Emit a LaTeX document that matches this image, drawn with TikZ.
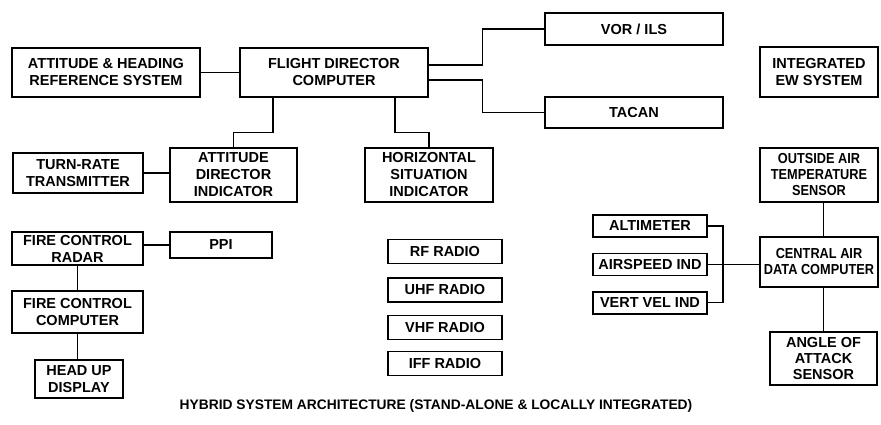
\documentclass[tikz,border=0pt]{standalone}
\usepackage{fontspec}
\setmainfont{Liberation Sans}
\newfontfamily\narrowsans[FakeStretch=0.88]{Liberation Sans}
\usetikzlibrary{positioning}

\begin{document}
\begin{tikzpicture}[
  x=1pt, y=-1pt,
  node distance=12pt,
  unitbox/.style={
    draw, line width=1.4pt, align=center, inner sep=0pt,
    font=\fontsize{14.5}{17}\selectfont\bfseries
  },
  sized/.style 2 args={minimum width=#1, minimum height=#2},
  narrowtext/.style={font=\fontsize{14.5}{16}\selectfont\narrowsans\bfseries},
  radio/.style={unitbox, sized={114pt}{24pt}},
  instr/.style={unitbox, sized={114pt}{22pt}},
  wire/.style={line width=1.3pt}
]
\useasboundingbox (0,0) rectangle (881,424);

% ---- Flight director group ----
\node[unitbox, sized={188pt}{49pt}] (ahrs) at (106,72.5) {ATTITUDE \& HEADING\\REFERENCE SYSTEM};
\node[unitbox, sized={188pt}{49pt}] (fdc) at (334,72.5) {FLIGHT DIRECTOR\\COMPUTER};
\node[unitbox, sized={178pt}{32pt}] (vor) at (634,29) {VOR / ILS};
\node[unitbox, sized={178pt}{31pt}] (tacan) at (634,112.5) {TACAN};
\node[unitbox, sized={130pt}{40pt}] (trt) at (78,173) {TURN-RATE\\TRANSMITTER};
\node[unitbox, sized={127pt}{54pt}] (adi) at (233.5,175) {ATTITUDE\\DIRECTOR\\INDICATOR};
\node[unitbox, sized={128pt}{54pt}] (hsi) at (429,175) {HORIZONTAL\\SITUATION\\INDICATOR};

\draw[wire] (ahrs) -- (fdc);
\draw[wire] ([yshift=7.5pt]fdc.east) -- ++(54,0) |- (vor.west);
\draw[wire] ([yshift=-7.5pt]fdc.east) -- ++(54,0) |- (tacan.west);
\draw[wire] ([xshift=-61pt]fdc.south) -- ++(0,35) -| (adi.north);
\draw[wire] ([xshift=61pt]fdc.south) -- ++(0,35) -| (hsi.north);
\draw[wire] (trt.east) -- (trt.east -| adi.west);

% ---- Fire control group ----
\node[unitbox, sized={131pt}{33pt}] (fcr) at (77.5,248.5) {FIRE CONTROL\\RADAR};
\node[unitbox, sized={102pt}{26pt}] (ppi) at (221,245) {PPI};
\node[unitbox, sized={131pt}{42pt}] (fcc) at (77.5,312) {FIRE CONTROL\\COMPUTER};
\node[unitbox, sized={88pt}{38pt}] (hud) at (79,379) {HEAD UP\\DISPLAY};

\draw[wire] (ppi.west -| fcr.east) -- (ppi.west);
\draw[wire] (fcr) -- (fcc);
\draw[wire] (fcc.south) -- (fcc.south |- hud.north);

% ---- Radios (stand-alone) ----
\node[radio] (rf) at (445,251.5) {RF RADIO};
\node[radio, below=13pt of rf] (uhf) {UHF RADIO};
\node[radio, below=12pt of uhf] (vhf) {VHF RADIO};
\node[radio, below=11pt of vhf] (iff) {IFF RADIO};

% ---- Air data group ----
\node[unitbox, sized={118pt}{50pt}] (ew) at (819,72) {INTEGRATED\\EW SYSTEM};
\node[unitbox, narrowtext, sized={118pt}{54pt}] (oat) at (819,175) {OUTSIDE AIR\\TEMPERATURE\\SENSOR};
\node[unitbox, narrowtext, sized={118pt}{50pt}] (cadc) at (819,262) {CENTRAL AIR\\DATA COMPUTER};
\node[unitbox, sized={107pt}{53pt}, font=\fontsize{14.5}{16}\selectfont\bfseries] (aoa) at (823.5,358.5) {ANGLE OF\\ATTACK\\SENSOR};
\node[instr] (alt) at (650,226) {ALTIMETER};
\node[instr, below=15pt of alt] (asi) {AIRSPEED IND};
\node[instr, below=15pt of asi] (vvi) {VERT VEL IND};
\coordinate (bus) at (723,262.5);

\draw[wire] (alt.east) -| (bus) |- (vvi.east);
\draw[wire] (asi.east) -- (asi.east -| cadc.west);
\draw[wire] (aoa.north |- oat.south) -- (aoa.north |- cadc.north);
\draw[wire] (aoa.north |- cadc.south) -- (aoa.north);

% Caption
\node[font=\fontsize{13.8}{16}\selectfont\bfseries] (caption) at (436,406)
  {HYBRID SYSTEM ARCHITECTURE (STAND-ALONE \& LOCALLY INTEGRATED)};

\end{tikzpicture}
\end{document}
